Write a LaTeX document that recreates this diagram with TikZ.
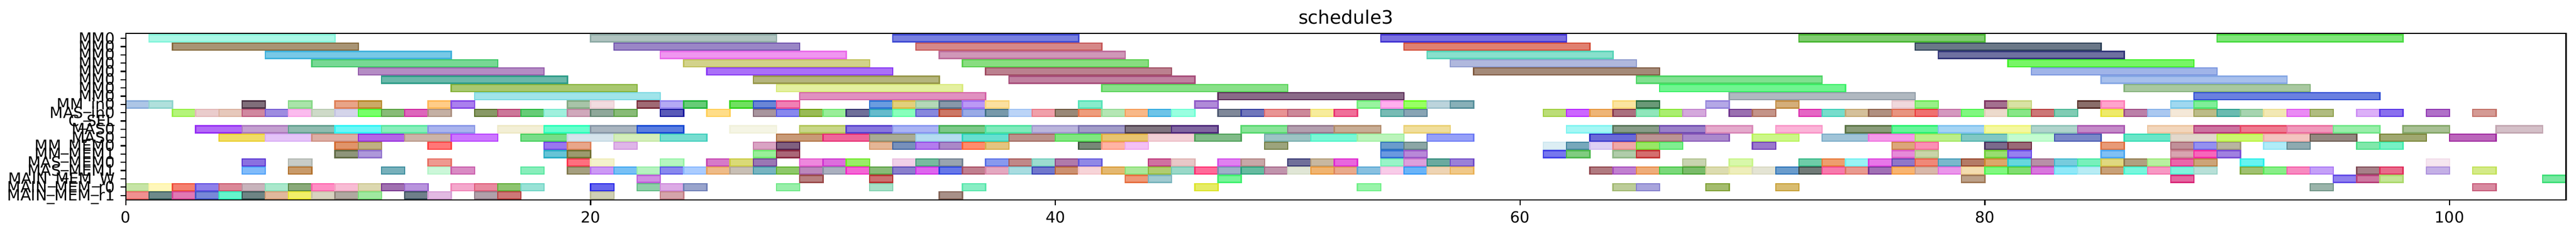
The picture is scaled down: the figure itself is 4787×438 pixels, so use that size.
\documentclass[tikz,border=0pt]{standalone}
\usepackage{fontspec}
\setmainfont{DejaVu Sans}
\newcommand\ticksize{\fontsize{14.3}{17}\selectfont}
\newcommand\titlesize{\fontsize{17.2}{20}\selectfont}
\def\splitrgb#1,#2,#3\relax{\def\colR{#1}\def\colG{#2}\def\colB{#3}}
\newcommand\bbx[4]{%
  \convertcolorspec{HTML}{#4}{rgb}\tmprgb
  \expandafter\splitrgb\tmprgb\relax
  \pgfmathsetmacro\eR{max(0,min(1,1.4*\colR-0.4))}%
  \pgfmathsetmacro\eG{max(0,min(1,1.4*\colG-0.4))}%
  \pgfmathsetmacro\eB{max(0,min(1,1.4*\colB-0.4))}%
  \definecolor{bfill}{HTML}{#4}%
  \definecolor{bedge}{rgb}{\eR,\eG,\eB}%
  \path[barbox] ({234+43.18*#2},{71.2+15.34*#1-6.5}) rectangle ({234+43.18*(#2+#3)},{71.2+15.34*#1+6.5});
}
\newcommand\bb[4]{\edef\next{\noexpand\bbx{#1}{#2}{#3}{#4}}\next}
\tikzset{
  barbox/.style={fill=bfill,draw=bedge,line width=1.2pt},
  tickmark/.style={line width=1.15pt,black},
  frame/.style={line width=1.2pt,black},
  ylab/.style={anchor=base east,inner sep=0pt,font=\ticksize},
  xlab/.style={anchor=north,inner sep=0pt,font=\ticksize},
  ttl/.style={anchor=base,inner sep=0pt,font=\titlesize}
}
\begin{document}
\begin{tikzpicture}[x=0.5pt,y=-0.5pt]
\useasboundingbox (0,0) rectangle (4787,438);
% MM0 rows (length 8)
\foreach \s/\c in {1/AAF8E6,20/B0C4C0,33/7880E0,54/7A70E0,72/80CC70,90/80E67A}{\bb{0}{\s}{8}{\c}}
\foreach \s/\c in {2/A89474,21/9A86C6,34/D68888,55/E08070,77/6A7888}{\bb{1}{\s}{8}{\c}}
\foreach \s/\c in {6/77C8E6,23/F096F0,35/D097B8,56/88E0CC,78/6E70A0}{\bb{2}{\s}{8}{\c}}
\foreach \s/\c in {8/77D894,24/D2D28A,36/88DD80,57/B0B8DD,81/77F566}{\bb{3}{\s}{8}{\c}}
\foreach \s/\c in {10/B48CC4,25/AA70F8,37/BB808F,58/A48A78,82/A0B4E8}{\bb{4}{\s}{8}{\c}}
\foreach \s/\c in {11/6AB8AA,27/B5B57D,38/C080A0,65/80E090,85/A8C0EC}{\bb{5}{\s}{8}{\c}}
\foreach \s/\c in {14/A8C870,28/E4F0A0,42/88E088,66/70F590,86/A8C8A0}{\bb{6}{\s}{8}{\c}}
\foreach \s/\c in {15/A0E4EA,29/E090C0,47/8A6A88,69/B0B8C0,89/6A80E0}{\bb{7}{\s}{8}{\c}}
% MM_in0
\foreach \s/\c in {0/ADC6E6,1/B0E0DC,5/806E7A,7/AAE4AA,9/E8A488,10/CCAA66,13/FFCC88,14/AA80EE,19/A8C4A8,20/F2DCE0,22/A06A74,23/B4AAF4,24/66CC77,26/70E060,27/6A86D6,28/F080B4,32/6A9CE0,33/E2D07C,34/B4D8B8,35/8898AA,36/BB99F5,37/FBE0A0,41/88ECCC,46/B08AD8,53/99F4A0,54/FFB0EE,55/99FF66,56/BCD4DC,57/88B0B8,64/FBE4A0,65/6A9977,68/B4A8E6,71/D4AE7A,76/F0D8DC,77/99F088,80/A4708F,81/D8E2A4,84/8A6E6A,85/FFA4CC,88/A0D8F0,89/80EE99}{\bb{8}{\s}{1}{\c}}
% MAS_in0
\foreach \s/\c in {2/B4F47A,3/EACCCC,4/E6C8BB,5/D088A0,6/9E8CE0,7/FBBBEE,8/CEDAC8,9/D4D4EA,10/77FF6A,11/88BB77,12/DD66BB,13/C4B0A4,15/889966,16/CC7799,17/66CC77,18/A0F0DD,19/D0A8BB,20/8FA89A,21/88BB77,23/5A5AB8,25/FFDD88,27/A8959E,28/8888EE,29/99BB55,30/99EE99,31/6F6F99,32/66BBCC,33/88FFBB,34/8888DD,35/CC7766,36/99AAE6,37/7799AA,38/BBD4F7,39/F0A0AA,40/998877,41/EE9C7C,42/B4E6B4,43/F8B888,44/6EC4E8,45/99FFE0,47/7F8899,48/7077BB,49/E89494,50/CC8899,51/F7EC9C,52/F06F99,54/77BBB4,55/88A4B4,61/BBDD77,62/CC66FF,63/EEB577,64/AA707F,65/90E6BB,66/AAEE70,67/D4A8DC,69/9A70B0,70/C49488,72/E566C4,73/77DDCC,74/D4C09A,75/B09080,76/E89480,77/F07070,78/D498BF,79/80F780,80/ECDACC,81/88E688,82/CC7777,83/80CCB4,85/EEEA6A,86/BB80A8,87/AAC8F0,88/F4E8D8,89/BCBC88,90/6ABBB0,91/A6D4B0,92/F2E8B4,93/EA8AF4,94/B0BC80,96/DCB0F8,97/8A70EE,99/B070C8,101/D49A94}{\bb{9}{\s}{1}{\c}}
% MAS0 (two rows, length 2)
\foreach \s/\c in {3/B36AF7,5/C4A0D0,7/8FBBAF,9/6AF7F7,11/88EEBB,13/AAB4EE,16/F3EFD6,18/66FFCC,20/A9B5C0,22/5A7EE0,26/F5F5E5,29/C8D688,31/8877DD,33/AAB4F4,35/7CC888,37/80EABB,39/BBB5DC,41/A29CC8,43/807580,45/8066A0,48/88E498,50/B39FAF,52/C8AD95,55/F0DE9C,62/A5F7F5,64/889C88,66/9A80C8,68/E4AACC,71/FBB4D8,74/8A9C7A,76/66F599,78/A4D4F4,80/F4F8A0,82/B0D4CC,84/C48AC8,87/F2D6BC,89/CC73A0,91/EE7A90,93/F099BB,95/99EEAA,98/A8C094,102/D4C0C8}{\bb{11}{\s}{2}{\c}}
\foreach \s/\c in {4/F0DC66,6/E4C4F8,8/DCAEA4,10/B366E6,12/CCB4A8,14/CC77FF,17/77DD88,19/D5E4EC,21/D4EEBB,23/77DDD0,28/C89A77,30/EE6699,32/A9AB96,34/B4DCF0,36/66E0D0,38/BB918A,40/80E680,42/E8C470,44/F2D0D6,46/80BB88,49/9CC4C4,51/7AF7D6,53/BBF4BB,56/96A0F8,63/6A6AD8,65/BB9494,67/AA88CC,70/CCF788,73/A0C4D8,75/F49AE8,77/BBEE8A,79/80C8C4,81/C4FCD0,83/7A88C8,86/6AE6C8,88/E2D8CC,90/CCF770,92/F4C4C0,94/948880,97/A0A870,100/BB66BB}{\bb{12}{\s}{2}{\c}}
% MM_MEM0, MM_MEM1
\foreach \s/\c in {9/E0946A,10/C0B082,13/FF7777,18/9977EE,19/E8A68A,21/DFB5E8,27/D9A3C3,28/806080,32/E4B696,33/7790BB,34/B37CEE,35/AA88C8,36/FF8C6C,37/E4C480,41/778877,42/FFB4A4,43/F4C0F4,49/9CA47C,54/6A9CCC,55/8CA6A6,61/DCEEF4,62/77A8BB,63/DDD0F4,64/F0A8A8,65/99E666,66/80EE90,70/9A77CC,76/DCA67A,77/FA8FB4,80/7A6A8C,81/9A6A77,85/E89A77,88/C09099,89/9490F0,90/B8B4A0,92/B0ECF8,93/8EAAB0,96/80E8AA,97/77F2C4}{\bb{13}{\s}{1}{\c}}
\foreach \s/\c in {9/8E957A,10/AE98DA,18/66C4D6,19/9C9A6E,27/99EE99,28/AA6677,54/6A99E0,55/B888D8,61/7777EE,62/80CC80,64/B0CCAA,65/D46E6E,76/E68AD8,77/C8D4A8,80/99DD70,81/9680F0,85/80C0F4,88/D8A4B0,89/F766BB,90/A080E0}{\bb{14}{\s}{1}{\c}}
% MAS_MEM0, MAS_MEM1
\foreach \s/\c in {5/8A70E0,7/C8CCC8,13/EE9990,19/FF6F7F,20/F4F2CC,23/B5F7C0,25/D67AC8,26/DADA77,27/9A77B4,29/EE88DD,30/DD6DDD,31/99EE66,33/F0D0E8,34/77BBA0,35/99A4B0,37/8899EE,38/C08888,39/9CDCD0,40/B07AAA,41/9088E6,44/D070A0,45/E8C8C8,47/E080F0,48/C8A8A8,50/70709A,51/C8B8A0,52/E866DD,54/99F4C8,55/DCA0DC,56/6AAA9F,57/9A80D8,67/C8D4B0,69/D8F8AA,72/6ECCA8,73/EE9E6E,74/99F4F4,75/E877E8,76/9077C8,77/F08878,78/7AB8CC,79/B47A66,80/DCA86A,81/66D8DD,82/B890A8,83/77CCDD,84/77F0BB,85/E0D880,86/B0A080,87/B8F0A0,88/EA66AA,89/CCA478,91/66F4F0,99/F6E6F0}{\bb{15}{\s}{1}{\c}}
\foreach \s/\c in {5/80BBFA,7/C89A6A,11/77B0BB,13/CCF7D9,14/D98BC4,17/88EEBB,19/A59F7F,20/CC99F5,21/77C0F5,22/B5F3C0,23/8888EE,24/AACCFF,25/EEBB88,26/C8BFB5,27/77B4C0,28/8EC86A,29/BB88BB,30/AAB0BF,31/F466D4,32/88BB77,33/8A7FCC,34/DD66EE,35/6677E8,36/C07F8F,37/E4A8C0,38/A8DCE0,39/7077CC,40/CC9070,41/F7D4D8,42/E4B870,43/AAE89A,44/B0CC70,45/99D8C8,46/FF6A99,47/9EB0C8,48/66BBA0,49/C094AC,50/E0E6D6,51/F0B470,52/E8AA8C,53/88C0E0,54/F8CCE8,55/6AB4F8,56/EED4B4,57/F0C888,63/B07A80,64/C080D0,65/EEAC7A,66/7AD87A,67/7ABB6A,68/DCDCB0,69/EEEEBB,70/E4E4D4,71/6A9CCC,72/707A77,73/F77AAC,74/E89A90,75/A070B4,76/F8B470,77/D8B8AA,78/EA96EA,79/F4DCB0,80/80F880,81/80DD70,82/D877DD,83/90E8F8,84/B8ECF4,85/C8A078,86/77F7DD,87/F799C4,88/80F4DD,89/B8E0D8,91/A0C070,92/88EE88,93/F78AC0,94/C4A0F8,96/A68088,97/E86A8A,99/C4B0E6,101/D4EA88}{\bb{16}{\s}{1}{\c}}
% MAIN_MEM_W, MAIN_MEM_r0, MAIN_MEM_r1
\foreach \s/\c in {22/D08EE3,29/B88080,32/CC6F6F,43/EE9977,44/A0CAD0,47/77F599,79/BCA088,88/E466A0,95/9080EE,96/CC77A0,97/C4E496,104/77E8A0}{\bb{17}{\s}{1}{\c}}
\foreach \s/\c in {0/C6E4A6,1/FFF7BB,2/F48070,3/8E80EA,4/DA8898,5/C8B4BC,6/AAE8CC,7/8AAA7A,8/FF8EC4,9/F8BCD4,10/DCD8B0,11/A070B0,12/B894DD,14/F4A8CC,15/E88A9F,16/8EC470,17/99E2D6,20/6666EE,22/8FCFA8,23/DCAAE5,24/99A4CC,28/99EFAA,32/A8E0C8,36/88EEC4,46/E6EC66,53/99F4AA,64/BCCC99,65/A8A4DC,68/A4BC6E,71/D8BC70,94/9AB4AA,101/D88AA0}{\bb{18}{\s}{1}{\c}}
\foreach \s/\c in {0/F09090,1/6E8A8A,2/E078B4,3/7888D8,4/66F4CC,5/6E8484,6/E0B89C,7/F0EE6A,8/D8D2C0,9/B0A8A0,10/A0E8A0,12/6F7F8A,13/E2BAE2,15/B0A0AA,16/CC7777,20/CFCFB5,23/D4A4AA,35/A89088}{\bb{19}{\s}{1}{\c}}
% axes frame
\draw[frame] (234,62.3) rectangle (4768.3,370.7);
% y ticks and labels
\foreach \i/\t in {0/MM0,1/MM0,2/MM0,3/MM0,4/MM0,5/MM0,6/MM0,7/MM0,8/MM\_in0,9/MAS\_in0,10/C\_SEL,11/MAS0,12/MAS0,13/MM\_MEM0,14/MM\_MEM1,15/MAS\_MEM0,16/MAS\_MEM1,17/MAIN\_MEM\_W,18/MAIN\_MEM\_r0,19/MAIN\_MEM\_r1}{
  \coordinate (yt\i) at (234,{71.2+15.34*\i});
  \draw[tickmark] (yt\i) -- ++(-10,0);
  \node[ylab] (yl\i) at (214,{71.2+15.34*\i+10}) {\t};
}
% x ticks and labels
\foreach \v in {0,20,40,60,80,100}{
  \coordinate (xt\v) at ({234+43.18*\v},370.7);
  \draw[tickmark] (xt\v) -- ++(0,10);
  \node[xlab] (xl\v) at ({234+43.18*\v},391.7) {\v};
}
\node[ttl] (title) at (2501,45) {schedule3};
\end{tikzpicture}
\end{document}
